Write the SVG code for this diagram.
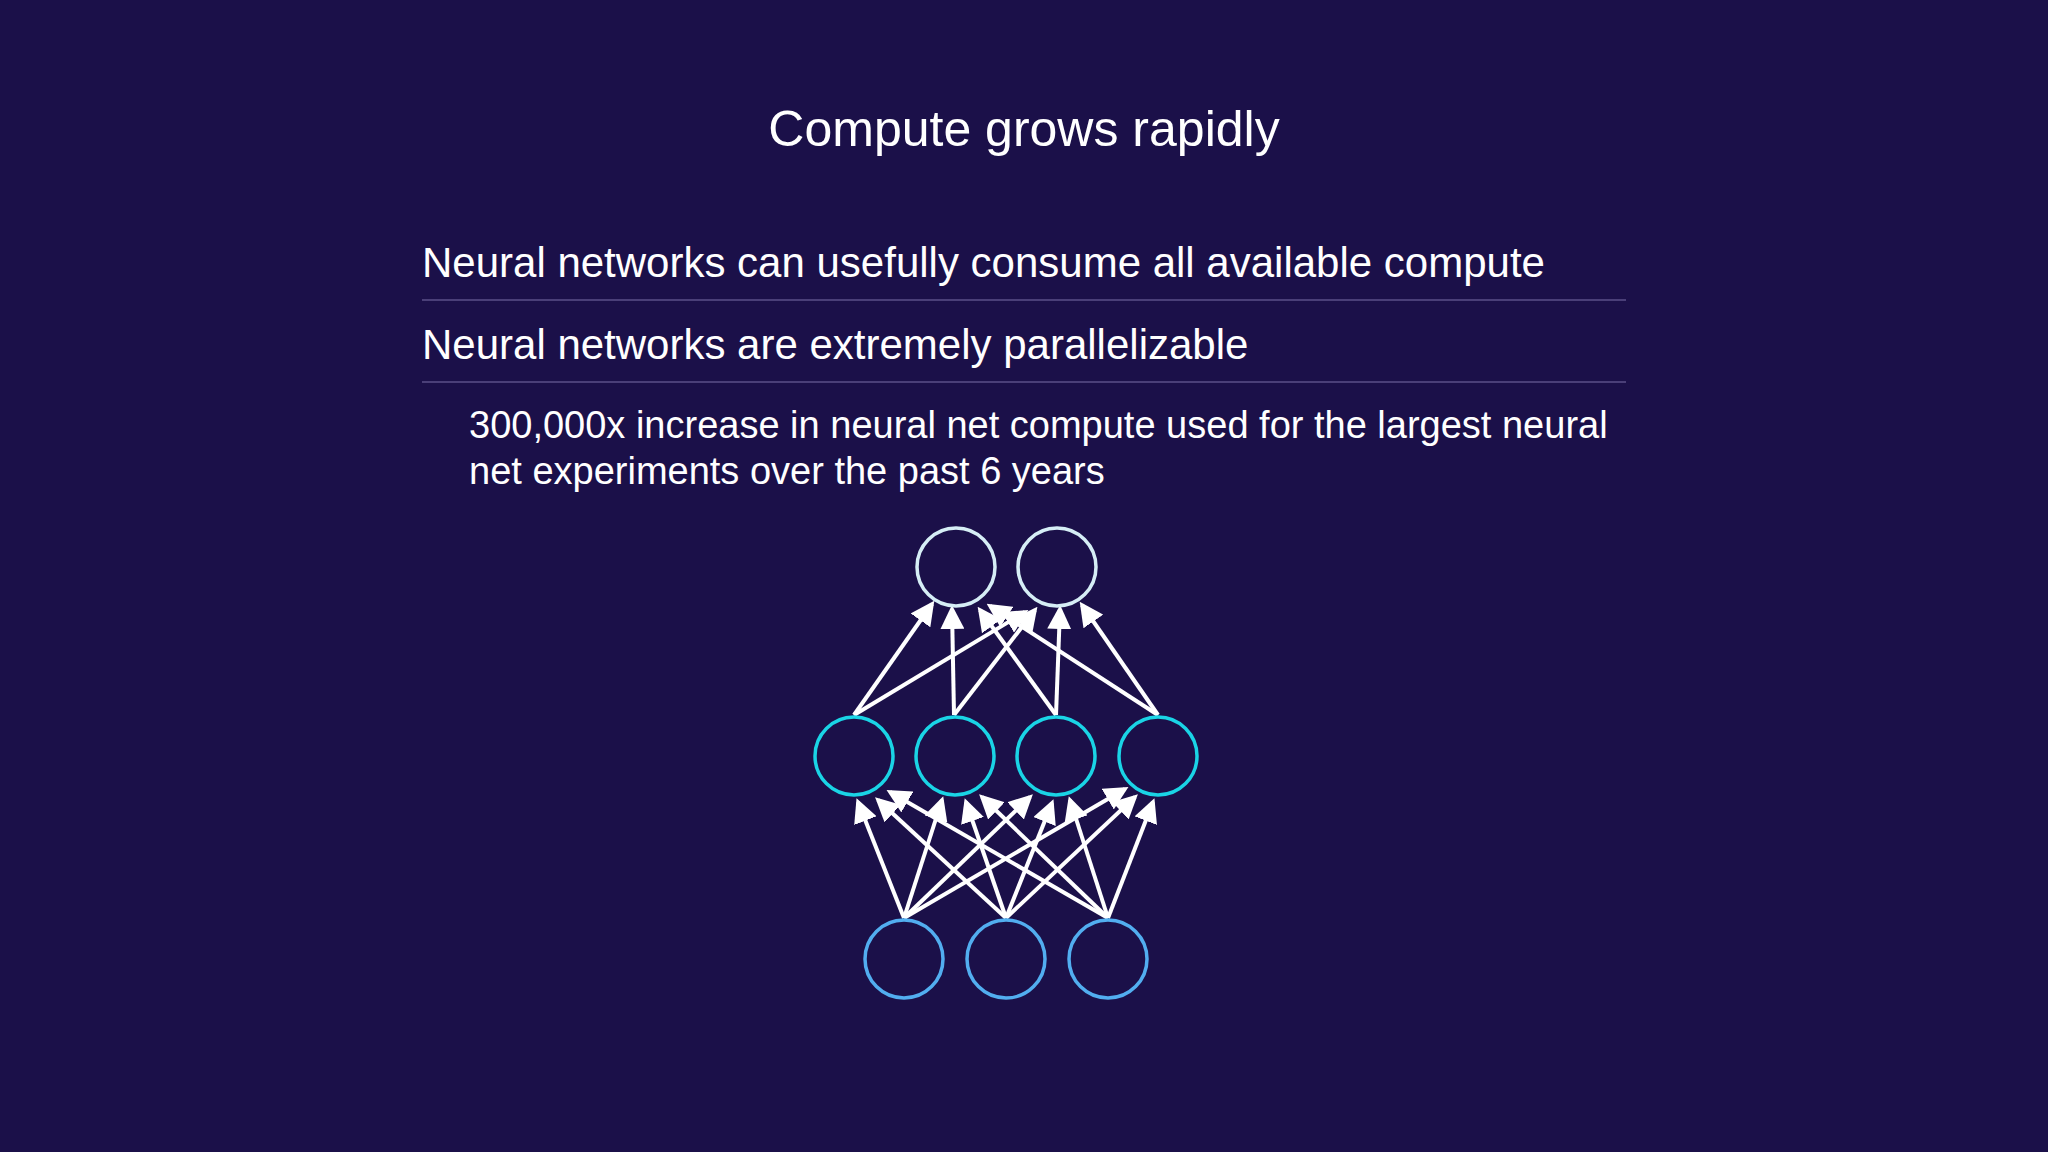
<svg xmlns="http://www.w3.org/2000/svg" width="2048" height="1152" viewBox="0 0 2048 1152">
<style>
text{font-family:"Liberation Sans",Arial,sans-serif;fill:#fff}
.c{fill:none;stroke-width:3.5}
.a{stroke:#fff;stroke-width:4;marker-end:url(#ah)}
</style>
<defs><marker id="ah" markerWidth="6" markerHeight="6" refX="5" refY="3" orient="auto" markerUnits="strokeWidth"><path d="M0,0 L6,3 L0,6 z" fill="#fff"/></marker></defs>
<rect width="2048" height="1152" fill="#1b1049"/>
<text x="1024" y="146" font-size="50" text-anchor="middle">Compute grows rapidly</text>
<text x="422" y="277" font-size="42">Neural networks can usefully consume all available compute</text>
<line x1="422" y1="300" x2="1626" y2="300" stroke="#4a3f78" stroke-width="2"/>
<text x="422" y="359" font-size="42">Neural networks are extremely parallelizable</text>
<line x1="422" y1="382" x2="1626" y2="382" stroke="#4a3f78" stroke-width="2"/>
<text x="469" y="438" font-size="38">300,000x increase in neural net compute used for the largest neural</text>
<text x="469" y="484" font-size="38">net experiments over the past 6 years</text>
<g id="connectors">
<line class="a" x1="854" y1="715" x2="932" y2="604"/>
<line class="a" x1="854" y1="715" x2="1025" y2="612"/>
<line class="a" x1="954" y1="715" x2="952" y2="609"/>
<line class="a" x1="954" y1="715" x2="1035" y2="610"/>
<line class="a" x1="1056" y1="715" x2="980" y2="610"/>
<line class="a" x1="1056" y1="715" x2="1060" y2="609"/>
<line class="a" x1="1158" y1="715" x2="990" y2="606"/>
<line class="a" x1="1158" y1="715" x2="1082" y2="605"/>
<line class="a" x1="904" y1="918" x2="858" y2="802"/>
<line class="a" x1="904" y1="918" x2="942" y2="800"/>
<line class="a" x1="904" y1="918" x2="1030" y2="797"/>
<line class="a" x1="904" y1="918" x2="1125" y2="789"/>
<line class="a" x1="1006" y1="918" x2="878" y2="800"/>
<line class="a" x1="1006" y1="918" x2="966" y2="802"/>
<line class="a" x1="1006" y1="918" x2="1052" y2="803"/>
<line class="a" x1="1006" y1="918" x2="1135" y2="797"/>
<line class="a" x1="1108" y1="918" x2="890" y2="792"/>
<line class="a" x1="1108" y1="918" x2="982" y2="797"/>
<line class="a" x1="1108" y1="918" x2="1070" y2="800"/>
<line class="a" x1="1108" y1="918" x2="1153" y2="802"/>
</g>
<g id="top0"><circle class="c" cx="956" cy="567" r="39" stroke="#d6eef6"/></g>
<g id="top1"><circle class="c" cx="1057" cy="567" r="39" stroke="#d6eef6"/></g>
<g id="mid0"><circle class="c" cx="854" cy="756" r="39" stroke="#1ad4e6"/></g>
<g id="mid1"><circle class="c" cx="955" cy="756" r="39" stroke="#1ad4e6"/></g>
<g id="mid2"><circle class="c" cx="1056" cy="756" r="39" stroke="#1ad4e6"/></g>
<g id="mid3"><circle class="c" cx="1158" cy="756" r="39" stroke="#1ad4e6"/></g>
<g id="bot0"><circle class="c" cx="904" cy="959" r="39" stroke="#52aef0"/></g>
<g id="bot1"><circle class="c" cx="1006" cy="959" r="39" stroke="#52aef0"/></g>
<g id="bot2"><circle class="c" cx="1108" cy="959" r="39" stroke="#52aef0"/></g>
</svg>
